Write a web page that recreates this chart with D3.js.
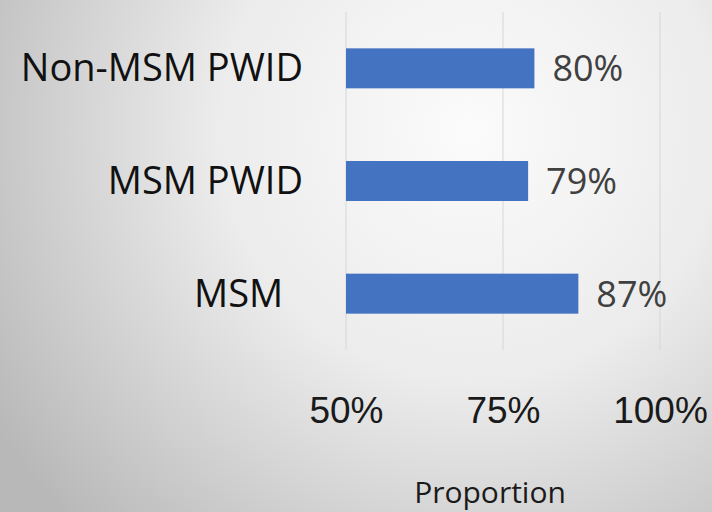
<!DOCTYPE html>
<html>
<head>
<meta charset="utf-8">
<script src="https://cdn.jsdelivr.net/npm/d3@7"></script>
<style>
  html, body { margin: 0; padding: 0; }
  svg { display: block; font-family: "Open Sans", Lato, sans-serif; }
  text { white-space: pre; }
</style>
</head>
<body>
<svg id="chart" width="712" height="512"></svg>
<script>
// Share of each group, in percent
const categories = ["Non-MSM PWID", "MSM PWID", "MSM  "];
const values = [80, 79, 87];
const tickValues = [50, 75, 100];
const axisTitle = "Proportion";

const W = 712, H = 512;
const svg = d3.select("#chart");

// Soft radial backdrop
const defs = svg.append("defs");
const grad = defs.append("radialGradient")
  .attr("id", "bg")
  .attr("gradientUnits", "userSpaceOnUse")
  .attr("cx", 470).attr("cy", 130).attr("r", 560);
grad.append("stop").attr("offset", "0%").attr("stop-color", "#fbfbfb");
grad.append("stop").attr("offset", "45%").attr("stop-color", "#ececec");
grad.append("stop").attr("offset", "100%").attr("stop-color", "#b8b8b8");
svg.append("rect").attr("width", W).attr("height", H).attr("fill", "url(#bg)");

const x = d3.scaleLinear().domain([50, 100]).range([346, 660]);
const y = d3.scaleBand().domain(categories).range([12, 350]).paddingInner(0.645).paddingOuter(0.3225);

// Vertical gridlines
svg.append("g")
  .selectAll("line")
  .data(tickValues)
  .join("line")
  .attr("x1", d => x(d)).attr("x2", d => x(d))
  .attr("y1", 12).attr("y2", 350)
  .attr("stroke", "#d6d6d6")
  .attr("stroke-width", 1);

// Bars
const rows = categories.map((c, i) => ({ cat: c, val: values[i] }));
svg.append("g")
  .selectAll("rect")
  .data(rows)
  .join("rect")
  .attr("x", x(50))
  .attr("y", d => y(d.cat))
  .attr("width", d => x(d.val) - x(50))
  .attr("height", y.bandwidth())
  .attr("fill", "#4473c2");

// Value labels
svg.append("g")
  .selectAll("text")
  .data(rows)
  .join("text")
  .attr("x", d => x(d.val) + 18)
  .attr("y", d => y(d.cat) + y.bandwidth() / 2 + 13)
  .attr("font-size", 36)
  .attr("fill", "#404040")
  .text(d => d.val + "%");

// Category labels
svg.append("g")
  .selectAll("text")
  .data(rows)
  .join("text")
  .attr("x", 303)
  .attr("y", d => y(d.cat) + y.bandwidth() / 2 + 13)
  .attr("text-anchor", "end")
  .attr("font-size", 38)
  .attr("fill", "#111")
  .text(d => d.cat);

// Bottom axis (labels only)
const axis = d3.axisBottom(x).tickValues(tickValues).tickFormat(d => d + "%").tickSize(0).tickPadding(0);
const gAxis = svg.append("g").attr("transform", "translate(0,423)").call(axis);
gAxis.select(".domain").remove();
gAxis.selectAll("text")
  .attr("dy", 0)
  .attr("y", 0)
  .attr("font-size", 37)
  .attr("font-family", null)
  .attr("fill", "#1a1a1a");

// Axis title
svg.append("text")
  .attr("x", 490)
  .attr("y", 503)
  .attr("text-anchor", "middle")
  .attr("font-size", 30)
  .attr("fill", "#1a1a1a")
  .text(axisTitle);
</script>
</body>
</html>
